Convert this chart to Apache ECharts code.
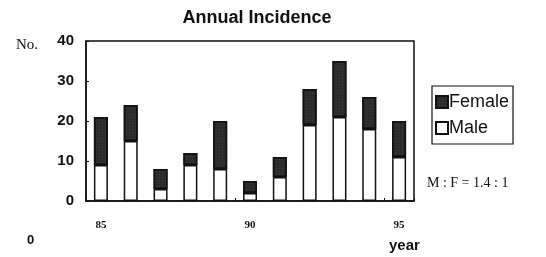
<!DOCTYPE html>
<html><head><meta charset="utf-8">
<script src="https://cdn.jsdelivr.net/npm/echarts@6/dist/echarts.min.js"></script>
<style>html,body{margin:0;padding:0;background:#fff}#c{width:546px;height:257px}</style>
</head><body><div id="c"></div>
<script>
var years = ['85','86','87','88','89','90','91','92','93','94','95'];
var male = [9, 15, 3, 9, 8, 2, 6, 19, 21, 18, 11];
var female = [12, 9, 5, 3, 12, 3, 5, 9, 14, 8, 9];
var yTicks = [0, 10, 20, 30, 40];
var titleText = 'Annual Incidence';
var ratioText = 'M : F = 1.4 : 1';

var chart = echarts.init(document.getElementById('c'));
chart.setOption({
  animation: false,
  backgroundColor: '#fff',
  title: {text: titleText, left: 252, top: 4, textAlign: 'center',
    textStyle: {fontFamily: 'Liberation Sans, Arial', fontSize: 18, fontWeight: 'bold', color: '#111'}},
  grid: {left: 86, right: 132, top: 41, bottom: 56, show: true, borderColor: '#111', borderWidth: 1.5},
  legend: {orient: 'vertical', left: 432, top: 86, data: ['Female', 'Male'],
    borderColor: '#111', borderWidth: 1.2, padding: [7, 4, 7, 3], itemGap: 8, icon: 'rect',
    itemWidth: 12, itemHeight: 12,
    textStyle: {fontFamily: 'Liberation Sans, Arial', fontSize: 18, color: '#111', padding: [0, 0, 0, -4]}},
  xAxis: {type: 'category', data: years,
    axisLine: {lineStyle: {color: '#111', width: 1.5}},
    axisTick: {show: true, inside: true, length: 3, lineStyle: {color: '#111'}},
    axisLabel: {interval: 4, margin: 19, fontFamily: 'Liberation Serif, Times New Roman', fontWeight: 'bold', fontSize: 11, color: '#111'}},
  yAxis: {type: 'value', min: yTicks[0], max: yTicks[yTicks.length - 1], interval: 10,
    splitLine: {show: false},
    axisLine: {show: true, lineStyle: {color: '#111', width: 1.5}},
    axisTick: {show: true, inside: true, length: 3, lineStyle: {color: '#111'}},
    axisLabel: {margin: 12, fontFamily: 'Liberation Sans, Arial', fontWeight: 'bold', fontSize: 15, color: '#111'}},
  series: [
    {name: 'Male', type: 'bar', stack: 's', data: male, barWidth: 14,
      itemStyle: {color: '#fff', borderColor: '#111', borderWidth: 1.5}},
    {name: 'Female', type: 'bar', stack: 's', data: female, barWidth: 14,
      itemStyle: {color: '#2b2b2b', borderColor: '#111', borderWidth: 1.5,
        decal: {symbol: 'rect', symbolSize: 0.5, color: 'rgba(200,200,200,0.45)', dashArrayX: [1, 2], dashArrayY: [1, 2]}}}
  ],
  graphic: [
    {type: 'text', left: 16, top: 38, style: {text: 'No.', font: '15px "Liberation Serif", serif', fill: '#111'}},
    {type: 'text', left: 27, top: 234, style: {text: '0', font: 'bold 13px "Liberation Sans", Arial', fill: '#111'}},
    {type: 'text', left: 389, top: 238, style: {text: 'year', font: 'bold 15px "Liberation Sans", Arial', fill: '#111'}},
    {type: 'text', left: 427, top: 176, style: {text: ratioText, font: '14px "Liberation Serif", serif', fill: '#111'}}
  ]
});
</script></body></html>
